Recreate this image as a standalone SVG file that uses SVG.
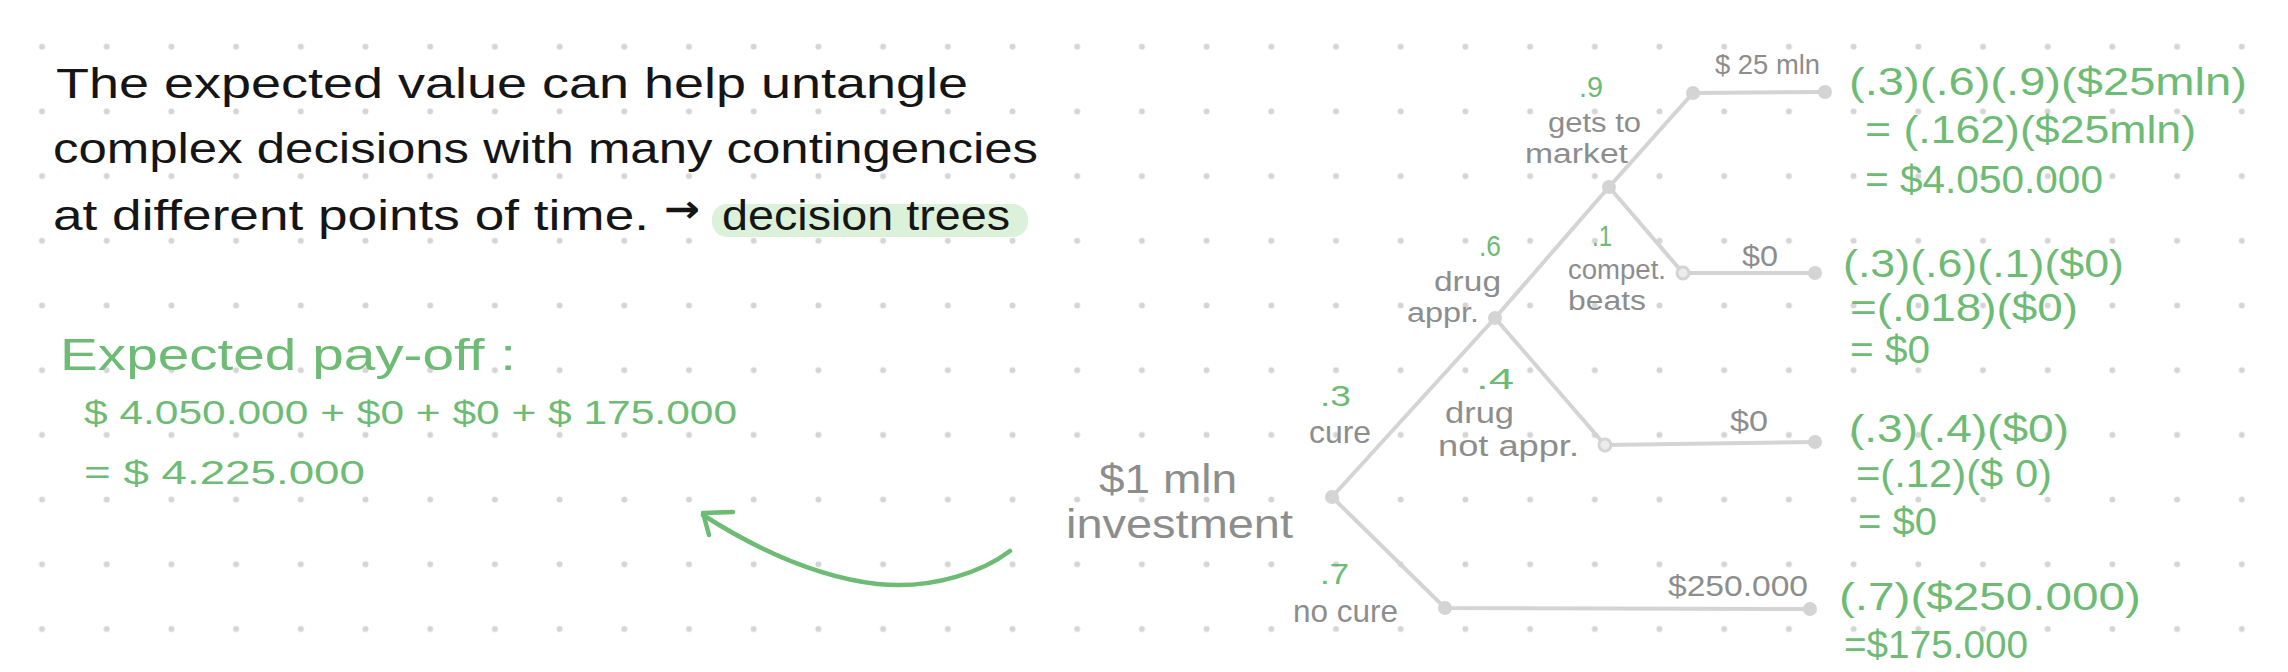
<svg xmlns="http://www.w3.org/2000/svg" width="2288" height="672" viewBox="0 0 2288 672">
<defs>
<pattern id="dots" patternUnits="userSpaceOnUse" x="9.65" y="14.35" width="64.7" height="64.7">
<circle cx="32.35" cy="32.35" r="3" fill="#d5d5d5"/>
</pattern>
<style>
text{font-family:"Liberation Sans",Arial,sans-serif;}
.k{fill:#151515;font-size:42px;}
.g{fill:#6dbb74;}
.t{fill:#8d8d8d;}
.p{fill:#6dbb74;font-size:30px;}
.f{fill:#6dbb74;font-size:38px;}
.ln{stroke:#d4d4d4;stroke-width:4;stroke-linecap:round;fill:none;}
.nd{fill:#d4d4d4;}
.ring{fill:#ececec;stroke:#d4d4d4;stroke-width:3;}
</style>
</defs>
<rect width="2288" height="672" fill="#ffffff"/>
<rect width="2288" height="672" fill="url(#dots)"/>

<g id="intro">
<text class="k" x="56" y="98" textLength="912" lengthAdjust="spacingAndGlyphs">The expected value can help untangle</text>
<text class="k" x="53" y="163" textLength="985" lengthAdjust="spacingAndGlyphs">complex decisions with many contingencies</text>
<text class="k" x="53" y="230" textLength="596" lengthAdjust="spacingAndGlyphs">at different points of time.</text>
<text class="k" x="664" y="222" style="font-family:'DejaVu Sans',sans-serif;font-size:38px;font-weight:bold" textLength="36" lengthAdjust="spacingAndGlyphs">→</text>
<rect x="712" y="204" width="316" height="33" rx="15" fill="#dcf1d9"/>
<text class="k" x="722" y="230" textLength="288" lengthAdjust="spacingAndGlyphs">decision trees</text>
</g>

<g id="payoff">
<text class="g" x="60" y="370" font-size="44" textLength="456" lengthAdjust="spacingAndGlyphs">Expected pay-off :</text>
<text class="g" x="84" y="424" font-size="34" textLength="653" lengthAdjust="spacingAndGlyphs">$ 4.050.000 + $0 + $0 + $ 175.000</text>
<text class="g" x="84" y="484" font-size="34" textLength="281" lengthAdjust="spacingAndGlyphs">= $ 4.225.000</text>
</g>

<g id="connectors">
<path class="ln" d="M1332,497 L1495,318 L1609,187 L1693,93 L1825,92"/>
<path class="ln" d="M1609,187 L1683,273 L1815,273"/>
<path class="ln" d="M1495,318 L1605,445 L1815,442"/>
<path class="ln" d="M1332,497 L1445,608 L1810,609"/>
<path d="M1010,551 C985,570 935,590 877,584 C810,576 750,545 703,515" fill="none" stroke="#6dbb74" stroke-width="4.5" stroke-linecap="round"/>
<path d="M733,512 L703,513 L709,535" fill="none" stroke="#6dbb74" stroke-width="4.5" stroke-linecap="round" stroke-linejoin="round"/>
</g>

<g id="root">
<circle class="nd" cx="1332" cy="497" r="7"/>
<text class="t" x="1099" y="493" font-size="40" textLength="138" lengthAdjust="spacingAndGlyphs">$1 mln</text>
<text class="t" x="1066" y="538" font-size="40" textLength="227" lengthAdjust="spacingAndGlyphs">investment</text>
</g>

<g id="cure">
<circle class="nd" cx="1495" cy="318" r="7"/>
<text class="p" x="1320" y="406" textLength="31" lengthAdjust="spacingAndGlyphs">.3</text>
<text class="t" x="1309" y="443" font-size="32" textLength="62" lengthAdjust="spacingAndGlyphs">cure</text>
</g>

<g id="no-cure">
<circle class="nd" cx="1445" cy="608" r="7"/>
<text class="p" x="1320" y="584" textLength="29" lengthAdjust="spacingAndGlyphs">.7</text>
<text class="t" x="1293" y="622" font-size="32" textLength="105" lengthAdjust="spacingAndGlyphs">no cure</text>
</g>

<g id="drug-appr">
<circle class="nd" cx="1609" cy="187" r="7"/>
<text class="p" x="1479" y="256" textLength="22" lengthAdjust="spacingAndGlyphs">.6</text>
<text class="t" x="1434" y="291" font-size="27" textLength="67" lengthAdjust="spacingAndGlyphs">drug</text>
<text class="t" x="1407" y="322" font-size="27" textLength="72" lengthAdjust="spacingAndGlyphs">appr.</text>
</g>

<g id="drug-not-appr">
<circle class="ring" cx="1605" cy="445" r="6"/>
<text class="p" x="1476" y="389" textLength="38" lengthAdjust="spacingAndGlyphs">.4</text>
<text class="t" x="1445" y="423" font-size="30" textLength="69" lengthAdjust="spacingAndGlyphs">drug</text>
<text class="t" x="1438" y="456" font-size="30" textLength="141" lengthAdjust="spacingAndGlyphs">not appr.</text>
</g>

<g id="gets-to-market">
<circle class="nd" cx="1693" cy="93" r="7"/>
<text class="p" x="1579" y="97" textLength="24" lengthAdjust="spacingAndGlyphs">.9</text>
<text class="t" x="1548" y="132" font-size="27" textLength="93" lengthAdjust="spacingAndGlyphs">gets to</text>
<text class="t" x="1525" y="163" font-size="27" textLength="103" lengthAdjust="spacingAndGlyphs">market</text>
</g>

<g id="compet-beats">
<circle class="ring" cx="1683" cy="273" r="6"/>
<text class="p" x="1592" y="246" textLength="20" lengthAdjust="spacingAndGlyphs">.1</text>
<text class="t" x="1568" y="279" font-size="27" textLength="98" lengthAdjust="spacingAndGlyphs">compet.</text>
<text class="t" x="1568" y="310" font-size="27" textLength="78" lengthAdjust="spacingAndGlyphs">beats</text>
</g>

<g id="outcome-1">
<circle class="nd" cx="1825" cy="92" r="7"/>
<text class="t" x="1715" y="74" font-size="28" textLength="105" lengthAdjust="spacingAndGlyphs">$ 25 mln</text>
<text class="f" x="1849" y="95" textLength="398" lengthAdjust="spacingAndGlyphs">(.3)(.6)(.9)($25mln)</text>
<text class="f" x="1865" y="143" textLength="331" lengthAdjust="spacingAndGlyphs">= (.162)($25mln)</text>
<text class="f" x="1865" y="193" textLength="238" lengthAdjust="spacingAndGlyphs">= $4.050.000</text>
</g>

<g id="outcome-2">
<circle class="nd" cx="1815" cy="273" r="7"/>
<text class="t" x="1742" y="266" font-size="30" textLength="36" lengthAdjust="spacingAndGlyphs">$0</text>
<text class="f" x="1843" y="277" textLength="281" lengthAdjust="spacingAndGlyphs">(.3)(.6)(.1)($0)</text>
<text class="f" x="1850" y="321" font-size="36" textLength="228" lengthAdjust="spacingAndGlyphs">=(.018)($0)</text>
<text class="f" x="1850" y="363" font-size="36" textLength="80" lengthAdjust="spacingAndGlyphs">= $0</text>
</g>

<g id="outcome-3">
<circle class="nd" cx="1815" cy="442" r="7"/>
<text class="t" x="1730" y="431" font-size="30" textLength="38" lengthAdjust="spacingAndGlyphs">$0</text>
<text class="f" x="1849" y="442" textLength="220" lengthAdjust="spacingAndGlyphs">(.3)(.4)($0)</text>
<text class="f" x="1856" y="487" textLength="196" lengthAdjust="spacingAndGlyphs">=(.12)($ 0)</text>
<text class="f" x="1858" y="535" textLength="79" lengthAdjust="spacingAndGlyphs">= $0</text>
</g>

<g id="outcome-4">
<circle class="nd" cx="1810" cy="609" r="7"/>
<text class="t" x="1668" y="596" font-size="30" textLength="140" lengthAdjust="spacingAndGlyphs">$250.000</text>
<text class="f" x="1839" y="610" textLength="302" lengthAdjust="spacingAndGlyphs">(.7)($250.000)</text>
<text class="f" x="1844" y="658" textLength="184" lengthAdjust="spacingAndGlyphs">=$175.000</text>
</g>
</svg>
